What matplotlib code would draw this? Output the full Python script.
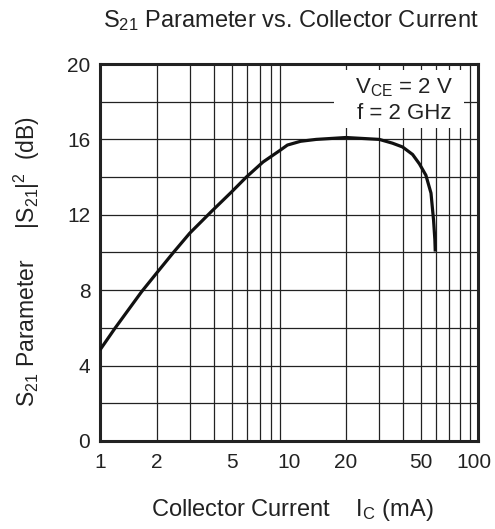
import numpy as np
import matplotlib
matplotlib.use("Agg")
import matplotlib.pyplot as plt
import matplotlib.transforms as mtransforms
from matplotlib.patches import Rectangle

plt.rcParams['font.family'] = ['Liberation Sans', 'DejaVu Sans']

# values
current_ma = [1.0, 1.2, 1.66, 1.99, 2.44, 2.98, 3.88, 4.95, 5.94, 7.28, 8.9, 9.8,
              11.5, 13.9, 20.0, 30.0, 35.2, 39.8, 45.0, 48.9, 52.9, 56.3, 58.1,
              59.0, 59.3]
s21_db = [4.83, 5.98, 7.92, 8.9, 9.99, 11.02, 12.17, 13.2, 14.0, 14.8, 15.4, 15.7,
          15.9, 16.0, 16.1, 16.0, 15.8, 15.6, 15.2, 14.7, 14.1, 13.15, 11.7,
          10.7, 10.05]

x_ticks = [1, 2, 5, 10, 20, 50, 100]
x_ticklabels = ['1', '2', '5', '10', '20', '50', '100']
y_ticks = [0, 4, 8, 12, 16, 20]

fig = plt.figure(figsize=(4.95, 5.29), dpi=100)
ax = fig.add_axes([0.202, 0.1664, 0.764, 0.7126])

ax.set_xscale('log')
ax.set_xlim(1, 100)
ax.set_ylim(0, 20)

# grid: every decade step and every 2 dB
for v in list(range(2, 10)) + list(range(20, 100, 10)):
    ax.axvline(v, color='#222222', lw=0.9, zorder=1)
for h in range(2, 20, 2):
    ax.axhline(h, color='#222222', lw=0.9, zorder=1)

ax.plot(current_ma, s21_db, color='#111111', lw=2.3, zorder=4,
        solid_capstyle='butt', solid_joinstyle='round')

ax.set_xticks(x_ticks)
ax.set_xticklabels(x_ticklabels)
ax.xaxis.set_minor_locator(matplotlib.ticker.NullLocator())
ax.set_yticks(y_ticks)
ax.tick_params(length=0, labelsize=15, colors='#222222')
ax.tick_params(axis='x', pad=9)
ax.tick_params(axis='y', pad=7)
for s in ax.spines.values():
    s.set_linewidth(2.2)
    s.set_color('#222222')

# nudge the last x label left so it stays inside the figure
last = ax.get_xticklabels()[-1]
last.set_transform(last.get_transform() +
                   mtransforms.ScaledTranslation(-4 / 100, 0, fig.dpi_scale_trans))

# annotation box (white patch hides the grid behind it)
ax.add_patch(Rectangle((0.62, 0.83), 0.343, 0.154, transform=ax.transAxes,
                       facecolor='white', edgecolor='none', zorder=2))
ax.text(0.805, 0.936, '$\\mathregular{V_{CE}}$ = 2 V', transform=ax.transAxes,
        ha='center', va='center', fontsize=16, color='#222222', zorder=5)
ax.text(0.805, 0.868, 'f = 2 GHz', transform=ax.transAxes,
        ha='center', va='center', fontsize=16, color='#222222', zorder=5)

fig.text(0.588, 0.962, '$\\mathregular{S_{21}}$ Parameter vs. Collector Current',
         ha='center', va='center', fontsize=17, color='#222222')
fig.text(0.59, 0.036, 'Collector Current    $\\mathregular{I_C}$ (mA)',
         ha='center', va='center', fontsize=17, color='#222222')
fig.text(0.055, 0.505, '$\\mathregular{S_{21}}$ Parameter     $\\mathregular{|S_{21}|^2}$  (dB)',
         ha='center', va='center', rotation=90, fontsize=16.5, color='#222222')

fig.savefig('out.png', dpi=100)
